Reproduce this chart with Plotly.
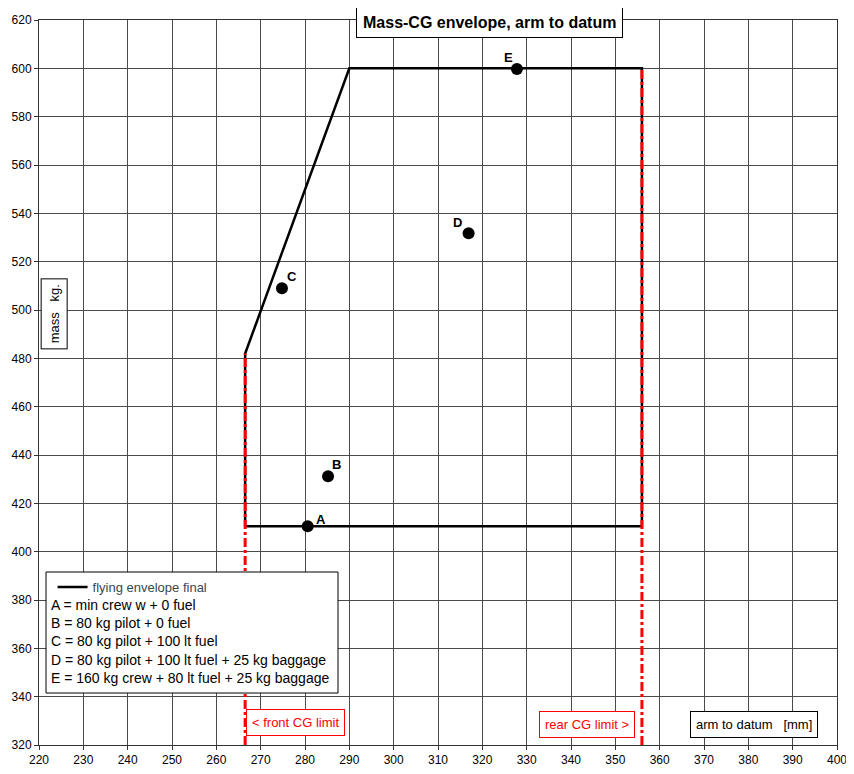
import plotly.graph_objects as go

# ---- data ----
env_x = [266.5, 266.5, 290.0, 356.0, 356.0, 266.5]
env_y = [410.5, 482.0, 600.0, 600.0, 410.5, 410.5]

front_cg = 266.5
rear_cg = 356.0
front_top = 482.0
rear_top = 600.0

pt_labels = ["A", "B", "C", "D", "E"]
pt_x = [280.6, 285.2, 274.8, 316.9, 327.8]
pt_y = [410.5, 431.2, 509.0, 531.8, 599.7]
pt_dx = [13, 8, 10, -11, -8]
pt_dy = [7, 12, 12, 11, 12]

legend_lines = [
    "A = min crew w + 0 fuel",
    "B = 80 kg pilot + 0 fuel",
    "C = 80 kg pilot + 100 lt fuel",
    "D = 80 kg pilot + 100 lt fuel + 25 kg baggage",
    "E = 160 kg crew + 80 lt fuel + 25 kg baggage",
]

x_range = [220, 400]
y_range = [320, 620]

FONT = "Liberation Sans, Arial, sans-serif"

fig = go.Figure()

fig.add_trace(go.Scatter(
    x=env_x, y=env_y, mode="lines", name="flying envelope final",
    line=dict(color="black", width=2.5), showlegend=True,
))
fig.add_trace(go.Scatter(
    x=[front_cg, front_cg], y=[y_range[0], front_top], mode="lines",
    line=dict(color="#ff0000", width=3, dash="9px,3px,3px,3px"), showlegend=False,
))
fig.add_trace(go.Scatter(
    x=[rear_cg, rear_cg], y=[y_range[0], rear_top], mode="lines",
    line=dict(color="#ff0000", width=3, dash="9px,3px,3px,3px"), showlegend=False,
))
fig.add_trace(go.Scatter(
    x=pt_x, y=pt_y, mode="markers",
    marker=dict(color="black", size=12), showlegend=False,
))

# legend box
fig.add_shape(type="rect", xref="paper", yref="paper",
              x0=0.0088, x1=0.3747, y0=0.0717, y1=0.2386,
              fillcolor="white", line=dict(color="black", width=1), layer="above")

def box(text, x, y, color, size=13, pad=5, **kw):
    return dict(text=text, x=x, y=y, xref="paper", yref="paper", showarrow=False,
                xanchor="center", yanchor="middle",
                font=dict(family=FONT, size=size, color=color),
                bgcolor="white", bordercolor=color, borderwidth=1, borderpad=pad, **kw)

annotations = [
    box("<b>Mass-CG envelope, arm to datum</b>", 0.565, 0.997, "black", size=16, pad=6),
    box("mass   kg.", 0.0188, 0.594, "black", textangle=-90),
    box("< front CG limit", 0.322, 0.0317, "#ff0000"),
    box("rear CG limit >", 0.687, 0.0276, "#ff0000"),
    box("arm to datum   [mm]", 0.896, 0.0276, "black"),
    dict(text="<br>".join(legend_lines), x=0.013, y=0.207,
         xref="paper", yref="paper", xanchor="left", yanchor="top", align="left",
         showarrow=False, font=dict(family=FONT, size=14, color="black")),
]
for lab, x, y, dx, dy in zip(pt_labels, pt_x, pt_y, pt_dx, pt_dy):
    annotations.append(dict(text="<b>" + lab + "</b>", x=x, y=y, xref="x", yref="y",
                            xshift=dx, yshift=dy, showarrow=False,
                            xanchor="center", yanchor="middle",
                            font=dict(family=FONT, size=13, color="black")))

fig.update_layout(
    width=846, height=766,
    margin=dict(l=31, r=17, t=12, b=29),
    paper_bgcolor="white", plot_bgcolor="white",
    font=dict(family=FONT, size=12, color="black"),
    showlegend=True,
    legend=dict(x=0.017, y=0.2386, xanchor="left", yanchor="top",
                bgcolor="rgba(0,0,0,0)", borderwidth=0,
                font=dict(family=FONT, size=13, color="#3a4654"),
                tracegroupgap=0),
    annotations=annotations,
)
common = dict(showgrid=True, gridcolor="#4a4a4a", gridwidth=1, zeroline=False,
              showline=True, linecolor="#333333", linewidth=1, mirror=True,
              ticks="outside", ticklen=4, tickcolor="#333333", automargin=False,
              tickfont=dict(family=FONT, size=12, color="black"))
fig.update_xaxes(range=x_range, dtick=10, tick0=220, **common)
fig.update_yaxes(range=y_range, dtick=20, tick0=320, **common)

fig.write_html("out.html")
